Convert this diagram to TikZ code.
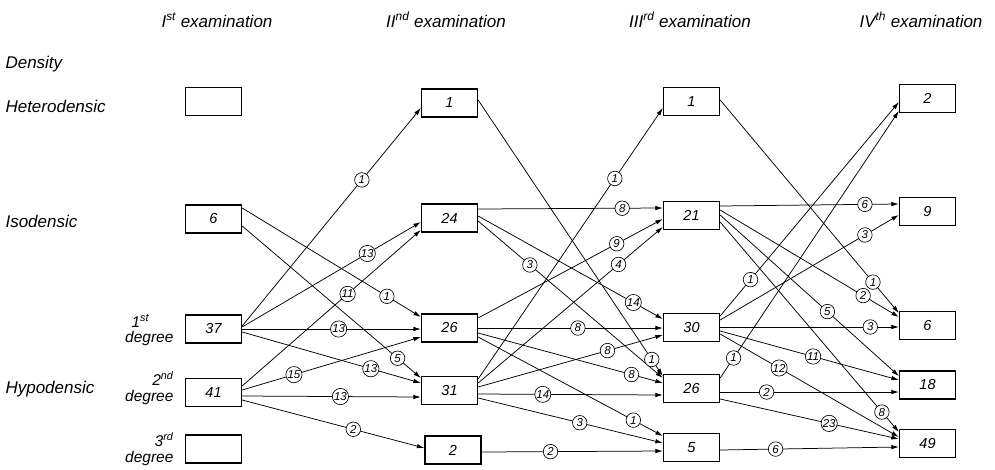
\documentclass[tikz,border=0pt]{standalone}
\usepackage{fontspec}
\setmainfont{Liberation Sans}
\usetikzlibrary{arrows.meta}
\pgfdeclarelayer{fg}
\pgfsetlayers{main,fg}
\newcommand\flowedge[6]{%
  \draw[edge] ([yshift=#2pt]#1.east) -- ([yshift=#4pt]#3.west);
  \begin{pgfonlayer}{fg}\path ([yshift=#2pt]#1.east) -- node[lab,pos=#5]{#6} ([yshift=#4pt]#3.west);\end{pgfonlayer}}
\begin{document}
\begin{tikzpicture}[x=1pt,y=-1pt,
  box/.style={draw,line width=1.3pt,minimum width=56pt,minimum height=28pt,inner sep=0pt,font=\fontsize{14.5}{14.5}\selectfont\itshape},
  edge/.style={line width=0.75pt,-{Latex[length=7.5pt,width=4.5pt]}},
  lab/.style={circle,draw,line width=0.65pt,fill=white,inner sep=0.4pt,minimum size=14.5pt,font=\fontsize{11.5}{11.5}\selectfont\itshape},
  hdr/.style={font=\fontsize{17}{17}\selectfont\itshape,anchor=base},
  rowlab/.style={font=\fontsize{17}{17}\selectfont\itshape,anchor=base west},
  deg/.style={font=\fontsize{15.5}{15.5}\selectfont\itshape}]
\fill[white] (0,0) rectangle (995,469);
\useasboundingbox (0,0) rectangle (995,469);
% headers
\node[hdr] (h1) at (217,27) {I\textsuperscript{st} examination};
\node[hdr] (h2) at (446,27) {II\textsuperscript{nd} examination};
\node[hdr] (h3) at (690,27) {III\textsuperscript{rd} examination};
\node[hdr] (h4) at (921,27) {IV\textsuperscript{th} examination};
% row labels
\node[rowlab] (r0) at (2,68) {Density};
\node[rowlab] (r1) at (2,112) {Heterodensic};
\node[rowlab] (r2) at (2,227) {Isodensic};
\node[rowlab] (r3) at (2,393) {Hypodensic};
\node[deg,anchor=base west] (g1a) at (128,327) {1\textsuperscript{st}};
\node[deg,anchor=base east] (g1b) at (177,342) {degree};
\node[deg,anchor=base east] (g2a) at (177,385) {2\textsuperscript{nd}};
\node[deg,anchor=base east] (g2b) at (177,401) {degree};
\node[deg,anchor=base east] (g3a) at (177,446) {3\textsuperscript{rd}};
\node[deg,anchor=base east] (g3b) at (177,462) {degree};
% boxes
\node[box] (a0) at (213.5,101.5) {};
\node[box] (a1) at (213.5,219) {6};
\node[box] (a2) at (213.5,329) {37};
\node[box] (a3) at (213.5,392.5) {41};
\node[box] (a4) at (213.5,449) {};
\node[box] (b0) at (449.5,103) {1};
\node[box] (b1) at (449.5,218) {24};
\node[box] (b2) at (449.5,328) {26};
\node[box] (b3) at (449.5,390.5) {31};
\node[box] (b4) at (453,450) {2};
\node[box] (c0) at (691.5,101.5) {1};
\node[box] (c1) at (691.5,215.5) {21};
\node[box] (c2) at (691.5,327.5) {30};
\node[box] (c3) at (691.5,388.5) {26};
\node[box] (c4) at (691.5,447.5) {5};
\node[box] (d0) at (927.5,98.5) {2};
\node[box] (d1) at (927.5,211.5) {9};
\node[box] (d2) at (927.5,325.5) {6};
\node[box] (d3) at (927.5,385) {18};
\node[box] (d4) at (927.5,443.5) {49};
% I -> II
\flowedge{a2}{3}{b0}{-5}{0.67}{1}
\flowedge{a2}{2}{b1}{-4}{0.70}{13}
\flowedge{a3}{6.5}{b1}{-12}{0.59}{11}
\flowedge{a1}{11}{b2}{11}{0.81}{1}
\flowedge{a1}{-7}{b3}{12.5}{0.87}{5}
\flowedge{a2}{0}{b2}{-1}{0.54}{13}
\flowedge{a2}{-3}{b3}{7.5}{0.72}{13}
\flowedge{a3}{2.5}{b2}{-9}{0.29}{15}
\flowedge{a3}{-3.5}{b3}{-6.5}{0.55}{13}
\flowedge{a3}{-7.5}{b4}{2}{0.61}{2}
% II -> III
\flowedge{b0}{3}{c3}{12.5}{0.94}{1}
\flowedge{b1}{9}{c1}{7.5}{0.78}{8}
\flowedge{b1}{-3}{c3}{10.5}{0.28}{3}
\flowedge{b1}{2}{c2}{8.5}{0.84}{14}
\flowedge{b2}{10}{c1}{-3.5}{0.75}{9}
\flowedge{b2}{0}{c2}{-0.5}{0.54}{8}
\flowedge{b2}{-5}{c3}{5.5}{0.83}{8}
\flowedge{b2}{-9}{c4}{11.5}{0.84}{1}
\flowedge{b3}{11.5}{c0}{-6.5}{0.74}{1}
\flowedge{b3}{7.5}{c1}{-11.5}{0.76}{4}
\flowedge{b3}{3.5}{c2}{-7.5}{0.70}{8}
\flowedge{b3}{-3.5}{c3}{-6.5}{0.35}{14}
\flowedge{b3}{-7.5}{c4}{4.5}{0.55}{3}
\flowedge{b4}{-2}{c4}{-3.5}{0.38}{2}
% III -> IV
\flowedge{c0}{1.5}{d2}{12.5}{0.855}{1}
\flowedge{c1}{9.5}{d1}{7.5}{0.81}{6}
\flowedge{c1}{5.5}{d2}{8.5}{0.80}{2}
\flowedge{c1}{0.5}{d3}{9}{0.60}{5}
\flowedge{c1}{-6.5}{d4}{11.5}{0.905}{8}
\flowedge{c2}{11.5}{d0}{-3.5}{0.17}{1}
\flowedge{c2}{7.5}{d1}{-3.5}{0.81}{3}
\flowedge{c2}{0.5}{d2}{-1.5}{0.84}{3}
\flowedge{c2}{-3.5}{d3}{5}{0.52}{11}
\flowedge{c2}{-6.5}{d4}{6.5}{0.33}{12}
\flowedge{c3}{10.5}{d0}{-12.5}{0.075}{1}
\flowedge{c3}{-3.5}{d3}{-7}{0.26}{2}
\flowedge{c3}{-10.5}{d4}{4.5}{0.61}{23}
\flowedge{c4}{-2.5}{d4}{-3.5}{0.31}{6}
\end{tikzpicture}
\end{document}
